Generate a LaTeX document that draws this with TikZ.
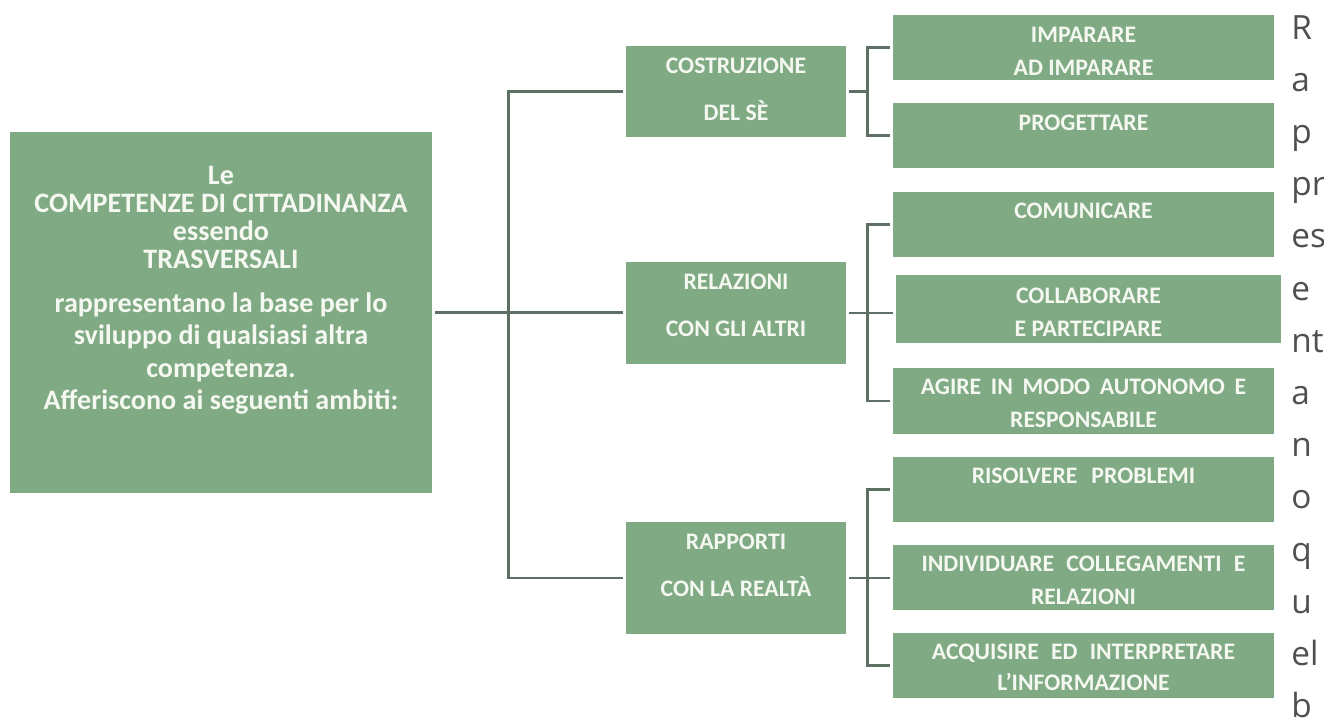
\documentclass[tikz,border=0pt]{standalone}
\usepackage{fontspec}
\setmainfont{Carlito}
\newfontfamily\sidefont{Open Sans}
\definecolor{boxgreen}{RGB}{128,170,132}
\definecolor{linegray}{RGB}{94,112,100}
\definecolor{boxwhite}{RGB}{244,248,240}
\definecolor{sidegray}{RGB}{80,80,80}

\begin{document}
\begin{tikzpicture}[x=0.02cm, y=-0.02cm,
    gbox/.style={fill=boxgreen, inner sep=0pt},
    gtxt/.style={text=boxwhite, font=\bfseries\fontsize{13.5}{16}\selectfont,
      align=center, inner sep=0pt},
    bigtxt/.style={gtxt, font=\bfseries\fontsize{16}{16}\selectfont},
    conn/.style={draw=linegray, line width=1.6pt, shorten >=1.7pt, shorten <=1.7pt},
    side/.style={text=sidegray, font=\sidefont\fontsize{19}{19}\selectfont,
      anchor=base west, inner sep=0pt}]
      \def\mx{736}
      \def\rx{1083.5}

      \useasboundingbox (0,0) rectangle (1324,717);

      % main box
      \node[gbox, minimum width=8.44cm, minimum height=7.22cm] (main) at (221,312.5) {};
      \node[bigtxt] (mainT) at (221,290) {Le\\COMPETENZE DI CITTADINANZA\\essendo\\TRASVERSALI\\[9pt]
        rappresentano la base per lo\\[2.4pt]sviluppo di qualsiasi altra\\[2.4pt]competenza.\\[2.4pt]
        Afferiscono ai seguenti ambiti:};

      % ambiti
      \node[gbox, minimum width=4.4cm, minimum height=1.82cm] (cos) at (\mx,91.5) {};
      \node[gbox, minimum width=4.4cm, minimum height=2.04cm] (rel) at (\mx,313) {};
      \node[gbox, minimum width=4.4cm, minimum height=2.24cm] (rap) at (\mx,578) {};
      \node[gtxt] (cosT) at (\mx,89.5) {COSTRUZIONE\\[10.6pt]DEL SÈ};
      \node[gtxt] (relT) at (\mx,305.5) {RELAZIONI\\[10.6pt]CON GLI ALTRI};
      \node[gtxt] (rapT) at (\mx,565) {RAPPORTI\\[10.6pt]CON LA REALTÀ};

      % competenze
      \node[gbox, minimum width=7.62cm, minimum height=1.3cm] (imp) at (\rx,47.5) {};
      \node[gbox, minimum width=7.62cm, minimum height=1.3cm] (prog) at (\rx,135.5) {};
      \node[gbox, minimum width=7.62cm, minimum height=1.3cm] (com) at (\rx,224.5) {};
      \node[gbox, minimum width=7.7cm, minimum height=1.36cm] (coll) at (1088.5,309) {};
      \node[gbox, minimum width=7.62cm, minimum height=1.32cm] (agi) at (\rx,401) {};
      \node[gbox, minimum width=7.62cm, minimum height=1.3cm] (ris) at (\rx,489.5) {};
      \node[gbox, minimum width=7.62cm, minimum height=1.3cm] (ind) at (\rx,577.5) {};
      \node[gbox, minimum width=7.62cm, minimum height=1.3cm] (acq) at (\rx,665.5) {};
      \node[gtxt] (impT) at (\rx,51.5) {IMPARARE\\[2.7pt]AD IMPARARE};
      \node[gtxt] (progT) at (\rx,123) {PROGETTARE};
      \node[gtxt] (comT) at (\rx,211) {COMUNICARE};
      \node[gtxt] (collT) at (1088.5,312.5) {COLLABORARE\\[2.7pt]E PARTECIPARE};
      \node[gtxt] (agiT) at (\rx,403.5) {{\spaceskip=5.5pt AGIRE IN MODO AUTONOMO E}\\[2.7pt]RESPONSABILE};
      \node[gtxt] (risT) at (\rx,476) {{\spaceskip=8pt RISOLVERE PROBLEMI}};
      \node[gtxt] (indT) at (\rx,580) {{\spaceskip=7pt INDIVIDUARE COLLEGAMENTI E}\\[2.7pt]RELAZIONI};
      \node[gtxt] (acqT) at (\rx,667.5) {{\spaceskip=6.9pt ACQUISIRE ED INTERPRETARE}\\[1.6pt]L'INFORMAZIONE};

      % connectors
      \draw[conn] (main.east) -- (main.east -| rel.west);
      \draw[conn] (cos.west) -- ++(-117,0) |- (rap.west);
      \draw[conn] (cos.east) -- ++(25,0);
      \draw[conn] (imp.west) -- ++(-25,0) |- (prog.west);
      \draw[conn] (rel.east) -- (rel.east -| coll.west);
      \draw[conn] (com.west) -- ++(-25,0) |- (agi.west);
      \draw[conn] (rap.east) -- (rap.east -| ind.west);
      \draw[conn] (ris.west) -- ++(-25,0) |- (acq.west);

      % side text
      \node[side] (s0) at (1291,39) {R};
      \node[side] (s1) at (1291,91.2) {a};
      \node[side] (s2) at (1291,143.4) {p};
      \node[side] (s3) at (1291,195.6) {pr};
      \node[side] (s4) at (1291,247.8) {es};
      \node[side] (s5) at (1291,300) {e};
      \node[side] (s6) at (1291,352.2) {nt};
      \node[side] (s7) at (1291,404.4) {a};
      \node[side] (s8) at (1291,456.6) {n};
      \node[side] (s9) at (1291,508.8) {o};
      \node[side] (s10) at (1291,561) {q};
      \node[side] (s11) at (1291,613.2) {u};
      \node[side] (s12) at (1291,665.4) {el};
      \node[side] (s13) at (1291,717.6) {b};
    \end{tikzpicture}
\end{document}
